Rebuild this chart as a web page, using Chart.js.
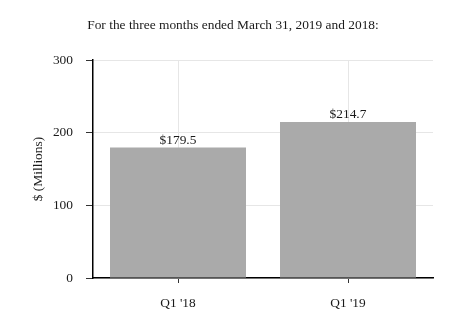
<!DOCTYPE html>
<html>
<head>
<meta charset="utf-8">
<script src="https://cdn.jsdelivr.net/npm/chart.js@4.4.1/dist/chart.umd.min.js"></script>
<style>
  html, body { margin: 0; padding: 0; background: #fff; }
  #wrap { width: 466px; height: 333px; }
</style>
</head>
<body>
<div id="wrap"><canvas id="chart" width="466" height="333"></canvas></div>
<script>
const categories = ["Q1 '18", "Q1 '19"];
const revenue = [179.5, 214.7];
const valueLabels = ['$179.5', '$214.7'];
const yTicks = [0, 100, 200, 300];
const titleText = 'For the three months ended March 31, 2019 and 2018:';

const FONT = 'Liberation Serif';
const TEXT = '#1a1a1a';

// Title centred on the whole canvas + "$xxx.x" labels above each bar
const barLabels = {
  id: 'barLabels',
  afterDatasetsDraw(chart) {
    const ctx = chart.ctx;
    const meta = chart.getDatasetMeta(0);
    ctx.save();
    ctx.font = '13.4px "' + FONT + '"';
    ctx.fillStyle = TEXT;
    ctx.textAlign = 'center';
    ctx.textBaseline = 'middle';
    ctx.fillText(titleText, chart.width / 2, 25);
    ctx.textBaseline = 'alphabetic';
    meta.data.forEach((bar, i) => {
      ctx.fillText(valueLabels[i], bar.x, bar.y - 4);
    });
    ctx.restore();
  }
};

new Chart(document.getElementById('chart'), {
  type: 'bar',
  data: {
    labels: categories,
    datasets: [{
      data: revenue,
      backgroundColor: '#aaaaaa',
      borderWidth: 0,
      barPercentage: 0.8,
      categoryPercentage: 1.0
    }]
  },
  options: {
    responsive: false,
    animation: false,
    layout: { padding: { top: 60, right: 33, bottom: 0, left: 0 } },
    plugins: {
      legend: { display: false },
      tooltip: { enabled: false },
      title: { display: false }
    },
    scales: {
      x: {
        afterFit(scale) { scale.height = 55; },
        grid: {
          offset: false,
          color: '#e6e6e6',
          tickColor: '#333',
          tickLength: 5
        },
        border: { color: '#000', width: 1.5 },
        ticks: {
          color: TEXT,
          padding: 12,
          font: { family: FONT, size: 13.4 }
        }
      },
      y: {
        min: 0,
        max: 300,
        afterFit(scale) { scale.width = 93; },
        afterBuildTicks(scale) { scale.ticks = yTicks.map(v => ({ value: v })); },
        grid: {
          color: '#e6e6e6',
          tickColor: '#333',
          tickLength: 7
        },
        border: { color: '#000', width: 1.5 },
        ticks: {
          color: TEXT,
          padding: 13,
          font: { family: FONT, size: 13.4 }
        },
        title: {
          display: true,
          text: '$ (Millions)',
          color: TEXT,
          font: { family: FONT, size: 13.4 },
          padding: { top: 30, bottom: 0 }
        }
      }
    }
  },
  plugins: [barLabels]
});
</script>
</body>
</html>
